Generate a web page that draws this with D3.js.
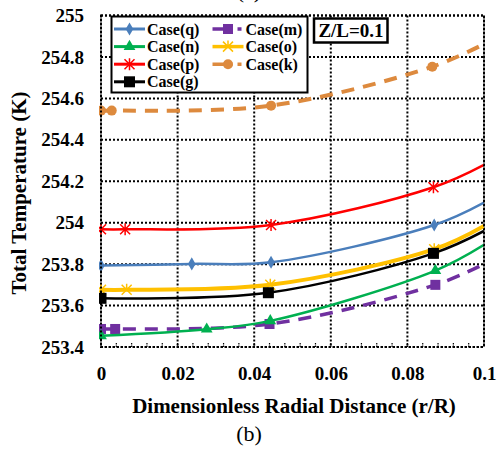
<!DOCTYPE html>
<html>
<head>
<meta charset="utf-8">
<script src="https://cdn.jsdelivr.net/npm/d3@7"></script>
<style>
  body { margin: 0; background: #fff; }
  svg { display: block; font-family: "Liberation Serif", "Times New Roman", serif; }
</style>
</head>
<body>
<div id="chart"></div>
<script>
// --------------------------------------
//  Data
// --------------------------------------

const xTicks = [0, 0.02, 0.04, 0.06, 0.08, 0.1];
const yTicks = [253.4, 253.6, 253.8, 254, 254.2, 254.4, 254.6, 254.8, 255];

// last point of each series sits on the right edge (no marker there)
const caseQ = {x: [0, 0.0237, 0.0444, 0.087, 0.1], y: [253.793, 253.801, 253.809, 253.989, 254.097]};
const caseN = {x: [0, 0.0276, 0.0442, 0.0873, 0.1], y: [253.454, 253.486, 253.526, 253.769, 253.893]};
const caseP = {x: [0, 0.0063, 0.0444, 0.0868, 0.1], y: [253.968, 253.968, 253.989, 254.171, 254.279]};
const caseG = {x: [0, 0.0437, 0.0868, 0.1], y: [253.635, 253.662, 253.852, 253.96]};
const caseM = {x: [0, 0.0037, 0.044, 0.0873, 0.1], y: [253.487, 253.487, 253.511, 253.70, 253.80]};
const caseO = {x: [0, 0.0067, 0.0442, 0.087, 0.1], y: [253.676, 253.676, 253.70, 253.872, 253.984]};
const caseK = {x: [0, 0.0028, 0.0444, 0.0865, 0.1], y: [254.541, 254.541, 254.565, 254.753, 254.862]};

const series = [
  {name: "Case(q)", d: caseQ, color: "#4a7ebb", width: 2.5, dash: null, marker: "diamond"},
  {name: "Case(n)", d: caseN, color: "#00b050", width: 2.5, dash: null, marker: "triangle"},
  {name: "Case(p)", d: caseP, color: "#ff0000", width: 2.5, dash: null, marker: "asterisk"},
  {name: "Case(g)", d: caseG, color: "#000000", width: 2.5, dash: null, marker: "square"},
  {name: "Case(m)", d: caseM, color: "#7030a0", width: 3.5, dash: "13,9", marker: "squareS"},
  {name: "Case(o)", d: caseO, color: "#ffc000", width: 4, dash: null, marker: "cross"},
  {name: "Case(k)", d: caseK, color: "#dd8a3e", width: 4, dash: "13,9", marker: "circle"}
];

// --------------------------------------
//  Margin and canvas
// --------------------------------------

const width = 497;
const height = 450;
const margin = {top: 15.5, right: 13, bottom: 103, left: 101};
const innerWidth = width - margin.left - margin.right;
const innerHeight = height - margin.top - margin.bottom;

const svg = d3.select("#chart")
  .append("svg")
    .attr("width", width)
    .attr("height", height);

const inner = svg.append("g")
    .attr("transform", `translate(${margin.left}, ${margin.top})`);

// --------------------------------------
//  Scales
// --------------------------------------

const x = d3.scaleLinear().domain([0, 0.1]).range([0, innerWidth]);
const y = d3.scaleLinear().domain([253.4, 255]).range([innerHeight, 0]);

// --------------------------------------
//  Grid and frame
// --------------------------------------

const dotted = "2,2";

inner.append("g")
  .selectAll("line")
  .data(yTicks)
  .join("line")
    .attr("x1", 0).attr("x2", innerWidth)
    .attr("y1", d => y(d)).attr("y2", d => y(d))
    .attr("stroke", "#000").attr("stroke-width", 2)
    .attr("stroke-dasharray", dotted);

inner.append("g")
  .selectAll("line")
  .data(xTicks)
  .join("line")
    .attr("x1", d => x(d)).attr("x2", d => x(d))
    .attr("y1", 0).attr("y2", innerHeight)
    .attr("stroke", "#000").attr("stroke-width", 2)
    .attr("stroke-dasharray", dotted);

// minor ticks along the bottom
inner.append("g")
  .selectAll("line")
  .data(d3.range(0, 25).map(i => i * 0.004))
  .join("line")
    .attr("x1", d => x(d)).attr("x2", d => x(d))
    .attr("y1", innerHeight).attr("y2", innerHeight - 4)
    .attr("stroke", "#000").attr("stroke-width", 1.2)
    .attr("stroke-dasharray", "1.5,1");

// --------------------------------------
//  Axes labels
// --------------------------------------

const fmtY = d => d3.format("")(+d.toFixed(1));

svg.append("g")
  .attr("transform", `translate(${margin.left}, ${margin.top})`)
  .call(d3.axisLeft(y).tickValues(yTicks).tickSize(0).tickPadding(17).tickFormat(fmtY))
  .call(g => g.select(".domain").remove())
  .call(g => g.selectAll("text")
      .attr("font-family", "Liberation Serif").attr("font-weight", "bold")
      .attr("font-size", 19).attr("fill", "#000"));

svg.append("g")
  .attr("transform", `translate(${margin.left}, ${margin.top + innerHeight})`)
  .call(d3.axisBottom(x).tickValues(xTicks).tickSize(0).tickPadding(20).tickFormat(d => d === 0 ? "0" : d3.format("")(+d.toFixed(2))))
  .call(g => g.select(".domain").remove())
  .call(g => g.selectAll("text")
      .attr("font-family", "Liberation Serif").attr("font-weight", "bold")
      .attr("font-size", 19).attr("fill", "#000"));

svg.append("text")
  .attr("x", 294).attr("y", 413)
  .attr("text-anchor", "middle")
  .attr("font-weight", "bold").attr("font-size", 21)
  .text("Dimensionless Radial Distance (r/R)");

svg.append("text")
  .attr("transform", `translate(26, 193) rotate(-90)`)
  .attr("text-anchor", "middle")
  .attr("font-weight", "bold").attr("font-size", 21)
  .text("Total Temperature (K)");

svg.append("text")
  .attr("x", 249).attr("y", 441)
  .attr("text-anchor", "middle")
  .attr("font-size", 22)
  .text("(b)");

svg.append("text")
  .attr("x", 249).attr("y", -2)
  .attr("text-anchor", "middle")
  .attr("font-size", 22)
  .text("(a)");

// --------------------------------------
//  Markers
// --------------------------------------

function drawMarker(g, type, color, cx, cy) {
  if (type === "diamond") {
    g.append("path").attr("d", d3.symbol(d3.symbolDiamond, 50)())
      .attr("transform", `translate(${cx},${cy})`).attr("fill", color);
  } else if (type === "triangle") {
    g.append("path").attr("d", d3.symbol(d3.symbolTriangle, 60)())
      .attr("transform", `translate(${cx},${cy})`).attr("fill", color);
  } else if (type === "square") {
    g.append("rect").attr("x", cx - 5.5).attr("y", cy - 5.5)
      .attr("width", 11).attr("height", 11).attr("fill", color);
  } else if (type === "squareS") {
    g.append("rect").attr("x", cx - 5).attr("y", cy - 5)
      .attr("width", 10).attr("height", 10).attr("fill", color);
  } else if (type === "circle") {
    g.append("circle").attr("cx", cx).attr("cy", cy).attr("r", 5).attr("fill", color);
  } else if (type === "cross") {
    g.append("path").attr("d", "M-5,-5L5,5M-5,5L5,-5M0,-6L0,0")
      .attr("transform", `translate(${cx},${cy})`)
      .attr("stroke", color).attr("stroke-width", 1.5).attr("fill", "none");
  } else if (type === "asterisk") {
    g.append("path").attr("d", "M-5,-5L5,5M-5,5L5,-5M0,-6L0,6")
      .attr("transform", `translate(${cx},${cy})`)
      .attr("stroke", color).attr("stroke-width", 1.5).attr("fill", "none");
  }
}

// --------------------------------------
//  Lines
// --------------------------------------

svg.append("clipPath").attr("id", "clip")
  .append("rect").attr("x", -2).attr("y", -2)
  .attr("width", innerWidth + 2).attr("height", innerHeight + 4);

const plot = inner.append("g").attr("clip-path", "url(#clip)");

const line = d3.line()
  .x(d => x(d[0]))
  .y(d => y(d[1]))
  .curve(d3.curveCatmullRom.alpha(0.5));

const order = ["Case(k)", "Case(m)", "Case(n)", "Case(o)", "Case(g)", "Case(q)", "Case(p)"];

order.forEach(name => {
  const s = series.find(e => e.name === name);
  const pts = s.d.x.map((v, i) => [v, s.d.y[i]]);
  plot.append("path")
    .datum(pts)
    .attr("d", line)
    .attr("fill", "none")
    .attr("stroke", s.color)
    .attr("stroke-width", s.width)
    .attr("stroke-dasharray", s.dash);
  pts.slice(0, -1).forEach(p => drawMarker(plot, s.marker, s.color, x(p[0]), y(p[1])));
});

// frame on top
inner.append("rect")
  .attr("x", 0).attr("y", 0)
  .attr("width", innerWidth).attr("height", innerHeight)
  .attr("fill", "none").attr("stroke", "#000").attr("stroke-width", 2)
  .attr("stroke-dasharray", dotted);

// --------------------------------------
//  Legend
// --------------------------------------

const legend = svg.append("g");

legend.append("rect")
  .attr("x", 111.5).attr("y", 16.5)
  .attr("width", 196).attr("height", 76)
  .attr("fill", "#fff").attr("stroke", "#000").attr("stroke-width", 2);

const legendPos = {
  "Case(q)": [0, 0], "Case(n)": [0, 1], "Case(p)": [0, 2], "Case(g)": [0, 3],
  "Case(m)": [1, 0], "Case(o)": [1, 1], "Case(k)": [1, 2]
};

series.forEach(s => {
  const [col, row] = legendPos[s.name];
  const x0 = col === 0 ? 114 : 212.5;
  const cy = 29 + row * 17.6;
  legend.append("line")
    .attr("x1", x0).attr("x2", x0 + 31)
    .attr("y1", cy).attr("y2", cy)
    .attr("stroke", s.color).attr("stroke-width", s.width > 3 ? 3.5 : 3)
    .attr("stroke-dasharray", s.dash ? "20,5,4,2" : null);
  drawMarker(legend, s.marker, s.color, x0 + 15.5, cy);
  legend.append("text")
    .attr("x", x0 + 33).attr("y", cy + 5.5)
    .attr("font-weight", "bold").attr("font-size", 16)
    .text(s.name);
});

// Z/L box
svg.append("rect")
  .attr("x", 314).attr("y", 18.5)
  .attr("width", 73.5).attr("height", 24)
  .attr("fill", "#fff").attr("stroke", "#000").attr("stroke-width", 2.5);

svg.append("text")
  .attr("x", 351).attr("y", 37)
  .attr("text-anchor", "middle")
  .attr("font-weight", "bold").attr("font-size", 19)
  .text("Z/L=0.1");
</script>
</body>
</html>
